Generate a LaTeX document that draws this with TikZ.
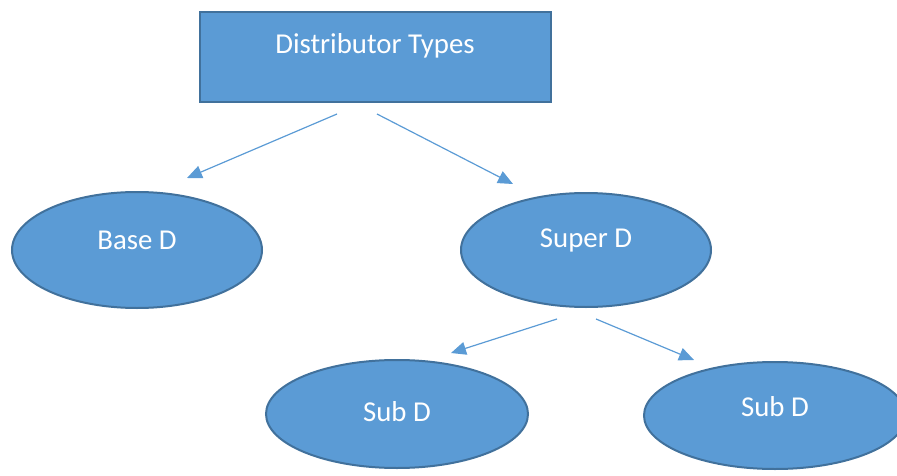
\documentclass[tikz,border=0pt]{standalone}
\usepackage{fontspec}
\setmainfont{Carlito}
\usetikzlibrary{shapes.geometric,arrows.meta}
\definecolor{fillblue}{HTML}{5B9BD5}
\definecolor{edgeblue}{HTML}{41719C}
\tikzset{
  box/.style={draw=edgeblue, fill=fillblue, line width=2pt, rectangle, inner sep=0pt},
  ell/.style={draw=edgeblue, fill=fillblue, line width=2pt, ellipse, inner sep=0pt},
  txt/.style={text=white, font=\fontsize{28.8}{33}\selectfont, inner sep=0pt},
  arr/.style={draw=fillblue, line width=1.2pt, -{Triangle[length=15pt,width=13pt]}}
}
\begin{document}
\begin{tikzpicture}[x=1pt,y=-1pt]
\useasboundingbox (0,0) rectangle (897,476);
\node[box, minimum width=351pt, minimum height=90pt] (top) at (375.5,57) {};
\node[txt] (toptxt) at (375,46) {Distributor Types};
\node[ell, minimum width=250pt, minimum height=116pt] (base) at (137,250) {};
\node[txt] (basetxt) at (137,240) {Base D};
\node[ell, minimum width=250pt, minimum height=114pt] (super) at (586,250) {};
\node[txt] (supertxt) at (586,240) {Super D};
\node[ell, minimum width=262pt, minimum height=108pt] (subl) at (397,414) {};
\node[txt] (subltxt) at (397,412) {Sub D};
\node[ell, minimum width=262pt, minimum height=107pt] (subr) at (775,415.5) {};
\node[txt] (subrtxt) at (775,407) {Sub D};
\coordinate (a1s) at (337,114);
\coordinate (a1e) at (187,178);
\coordinate (a2s) at (377,114);
\coordinate (a2e) at (513,184);
\coordinate (a3s) at (557,319);
\coordinate (a3e) at (451,353);
\coordinate (a4s) at (596,319);
\coordinate (a4e) at (694,360);
\draw[arr] (a1s) -- (a1e);
\draw[arr] (a2s) -- (a2e);
\draw[arr] (a3s) -- (a3e);
\draw[arr] (a4s) -- (a4e);
\end{tikzpicture}
\end{document}
